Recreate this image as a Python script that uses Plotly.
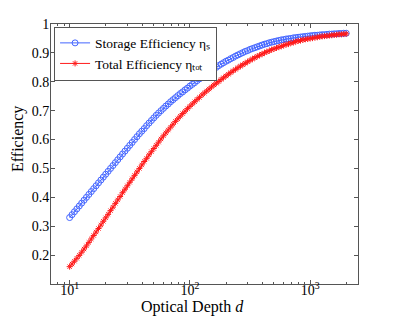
import plotly.graph_objects as go

# Optical depth d (log-spaced samples)
d = [10.0, 10.47, 10.96, 11.48, 12.02, 12.59, 13.18, 13.80, 14.45, 15.14,
     15.85, 16.60, 17.38, 18.20, 19.05, 19.95, 20.89, 21.88, 22.91, 23.99,
     25.12, 26.30, 27.54, 28.84, 30.20, 31.62, 33.11, 34.67, 36.31, 38.02,
     39.81, 41.69, 43.65, 45.71, 47.86, 50.12, 52.48, 54.95, 57.54, 60.26,
     63.10, 66.07, 69.18, 72.44, 75.86, 79.43, 83.18, 87.10, 91.20, 95.50,
     100.0, 104.7, 109.6, 114.8, 120.2, 125.9, 131.8, 138.0, 144.5, 151.4,
     158.5, 166.0, 173.8, 182.0, 190.5, 199.5, 208.9, 218.8, 229.1, 239.9,
     251.2, 263.0, 275.4, 288.4, 302.0, 316.2, 331.1, 346.7, 363.1, 380.2,
     398.1, 416.9, 436.5, 457.1, 478.6, 501.2, 524.8, 549.5, 575.4, 602.6,
     631.0, 660.7, 691.8, 724.4, 758.6, 794.3, 831.8, 871.0, 912.0, 955.0,
     1000, 1047, 1096, 1148, 1202, 1259, 1318, 1380, 1445, 1514,
     1585, 1660, 1738, 1820, 1905, 1995]

storage_eff = [0.330, 0.340, 0.350, 0.360, 0.370, 0.380, 0.390, 0.400, 0.410, 0.420,
               0.430, 0.440, 0.450, 0.460, 0.470, 0.480, 0.490, 0.500, 0.510, 0.520,
               0.530, 0.540, 0.550, 0.560, 0.570, 0.580, 0.590, 0.600, 0.610, 0.620,
               0.629, 0.638, 0.648, 0.657, 0.666, 0.675, 0.684, 0.692, 0.700, 0.708,
               0.716, 0.723, 0.731, 0.738, 0.745, 0.752, 0.759, 0.765, 0.772, 0.778,
               0.785, 0.791, 0.797, 0.804, 0.810, 0.816, 0.822, 0.828, 0.834, 0.839,
               0.845, 0.850, 0.856, 0.861, 0.866, 0.871, 0.875, 0.880, 0.884, 0.889,
               0.893, 0.897, 0.901, 0.905, 0.908, 0.912, 0.915, 0.918, 0.921, 0.924,
               0.927, 0.930, 0.932, 0.935, 0.937, 0.939, 0.941, 0.943, 0.945, 0.946,
               0.948, 0.949, 0.950, 0.952, 0.953, 0.954, 0.955, 0.956, 0.957, 0.958,
               0.959, 0.960, 0.961, 0.961, 0.962, 0.963, 0.963, 0.964, 0.965, 0.965,
               0.966, 0.966, 0.967, 0.967, 0.968, 0.968]

total_eff = [0.160, 0.169, 0.179, 0.189, 0.199, 0.210, 0.221, 0.232, 0.244, 0.256,
             0.268, 0.280, 0.292, 0.304, 0.317, 0.329, 0.341, 0.354, 0.366, 0.379,
             0.391, 0.403, 0.416, 0.428, 0.440, 0.452, 0.464, 0.476, 0.488, 0.500,
             0.512, 0.524, 0.535, 0.547, 0.558, 0.569, 0.580, 0.591, 0.602, 0.613,
             0.623, 0.633, 0.643, 0.653, 0.663, 0.672, 0.681, 0.690, 0.698, 0.707,
             0.715, 0.723, 0.731, 0.739, 0.746, 0.754, 0.761, 0.768, 0.775, 0.782,
             0.789, 0.795, 0.801, 0.808, 0.814, 0.820, 0.826, 0.832, 0.838, 0.843,
             0.849, 0.854, 0.859, 0.864, 0.869, 0.874, 0.879, 0.883, 0.888, 0.892,
             0.896, 0.900, 0.904, 0.907, 0.911, 0.914, 0.917, 0.920, 0.923, 0.926,
             0.929, 0.931, 0.934, 0.936, 0.939, 0.941, 0.943, 0.945, 0.947, 0.948,
             0.950, 0.951, 0.953, 0.954, 0.956, 0.957, 0.958, 0.959, 0.960, 0.961,
             0.962, 0.963, 0.964, 0.964, 0.965, 0.966]

x_tickvals = [10, 100, 1000]
x_ticktext = ["10<sup>1</sup>", "10<sup>2</sup>", "10<sup>3</sup>"]
x_minor = [8, 9, 20, 30, 40, 50, 60, 70, 80, 90, 200, 300, 400, 500, 600, 700, 800, 900, 2000]
y_tickvals = [0.2, 0.3, 0.4, 0.5, 0.6, 0.7, 0.8, 0.9, 1.0]
y_ticktext = ["0.2", "0.3", "0.4", "0.5", "0.6", "0.7", "0.8", "0.9", "1"]

BLUE = "#4466ff"
RED = "#ff1a1a"
FONT = "Liberation Serif"
AXC = "#555555"

fig = go.Figure()
fig.add_trace(go.Scatter(
    x=d, y=storage_eff, mode="lines+markers",
    name="Storage Efficiency ηₛ",
    line=dict(color=BLUE, width=1),
    marker=dict(symbol="circle-open", size=6, color=BLUE, line=dict(width=1, color=BLUE)),
))
fig.add_trace(go.Scatter(
    x=d, y=total_eff, mode="lines+markers",
    name="Total Efficiency ηₜₒₜ",
    line=dict(color=RED, width=1),
    marker=dict(symbol="asterisk-open", size=5, color=RED, line=dict(width=1, color=RED)),
))

axis_common = dict(
    showline=True, linecolor=AXC, linewidth=1, mirror="ticks",
    ticks="inside", ticklen=4, tickcolor=AXC, showgrid=False, zeroline=False,
    tickfont=dict(family=FONT, size=14, color="black"),
    automargin=False,
)

fig.update_xaxes(
    type="log", range=[0.845, 3.398],
    tickvals=x_tickvals, ticktext=x_ticktext,
    minor=dict(ticks="inside", ticklen=2, tickcolor=AXC, tickvals=x_minor, showgrid=False),
    ticklabelstandoff=-7,
    **axis_common,
)
fig.update_yaxes(
    range=[0.1, 1.0],
    tickvals=y_tickvals, ticktext=y_ticktext,
    ticklabelstandoff=-2,
    **axis_common,
)

# axis titles (plot area spans 307 x 260 px)
fig.add_annotation(text="Optical Depth <i>d</i>", xref="paper", yref="paper",
                   x=(192 - 51) / 307, y=-(307 - 284) / 260, xanchor="center", yanchor="middle",
                   showarrow=False, font=dict(family=FONT, size=16, color="black"))
fig.add_annotation(text="Efficiency", xref="paper", yref="paper", textangle=-90,
                   x=-(51 - 18) / 307, y=(284 - 139) / 260, xanchor="center", yanchor="middle",
                   showarrow=False, font=dict(family=FONT, size=16, color="black"))

# page body has an 8px margin, so the figure is drawn 8px smaller and offset
fig.update_layout(
    width=387, height=312,
    margin=dict(l=43, r=37, t=16, b=36),
    paper_bgcolor="white", plot_bgcolor="white",
    showlegend=True,
    legend=dict(
        x=0.01, y=0.99, xanchor="left", yanchor="top",
        bgcolor="white", bordercolor=AXC, borderwidth=1,
        font=dict(family=FONT, size=13.5, color="black"),
        itemwidth=30, tracegroupgap=0,
    ),
)

fig.write_html("out.html")
